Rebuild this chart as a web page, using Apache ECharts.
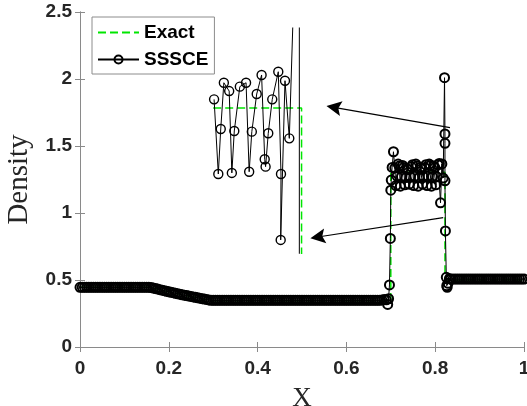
<!DOCTYPE html>
<html><head><meta charset="utf-8">
<script src="https://cdn.jsdelivr.net/npm/echarts@6/dist/echarts.min.js"></script>
<style>html,body{margin:0;padding:0;background:#fff}#c{width:527px;height:406px}</style>
</head><body><div id="c"></div>
<script>
// ---- tick labels ----
const xTicks = [0, 0.2, 0.4, 0.6, 0.8, 1];
const yTicks = [0, 0.5, 1, 1.5, 2, 2.5];

// ---- Exact solution ----
const exactX = [0, 0.158, 0.18, 0.2, 0.22, 0.24, 0.26, 0.28, 0.293, 0.700, 0.700, 0.822, 0.822, 1.0];
const exactY = [0.445, 0.445, 0.427, 0.412, 0.397, 0.384, 0.371, 0.357, 0.345, 0.345, 1.304, 1.304, 0.5, 0.5];

// ---- SSSCE numerical solution ----
const sssceX = [
  0,0.005,0.01,0.015,0.02,0.025,0.03,0.035,0.04,0.045,0.05,0.055,0.06,0.065,0.07,0.075,
  0.08,0.085,0.09,0.095,0.1,0.105,0.11,0.115,0.12,0.125,0.13,0.135,0.14,0.145,0.15,0.155,
  0.16,0.165,0.17,0.175,0.18,0.185,0.19,0.195,0.2,0.205,0.21,0.215,0.22,0.225,0.23,0.235,
  0.24,0.245,0.25,0.255,0.26,0.265,0.27,0.275,0.28,0.285,0.29,
  0.295,0.3,0.305,0.31,0.315,0.32,0.325,0.33,0.335,0.34,0.345,0.35,0.355,0.36,0.365,0.37,
  0.375,0.38,0.385,0.39,0.395,0.4,0.405,0.41,0.415,0.42,0.425,0.43,0.435,0.44,0.445,0.45,
  0.455,0.46,0.465,0.47,0.475,0.48,0.485,0.49,0.495,0.5,0.505,0.51,0.515,0.52,0.525,0.53,
  0.535,0.54,0.545,0.55,0.555,0.56,0.565,0.57,0.575,0.58,0.585,0.59,0.595,0.6,0.605,0.61,
  0.615,0.62,0.625,0.63,0.635,0.64,0.645,0.65,0.655,0.66,0.665,0.67,0.675,0.68,0.685,0.69,
  0.693,0.695,0.697,0.699,0.700,0.701,0.703,0.706,
  0.709,0.7115,0.714,0.7165,0.719,0.7215,0.724,0.7265,0.729,0.7315,0.734,0.7365,0.739,0.7415,
  0.744,0.7465,0.749,0.7515,0.754,0.7565,0.759,0.7615,0.764,0.7665,0.769,0.7715,0.774,0.7765,
  0.779,0.7815,0.784,0.7865,0.789,0.7915,0.794,0.7965,0.799,0.8015,0.804,0.8065,0.809,0.812,
  0.815,0.818,
  0.821,0.822,0.822,0.822,0.823,0.825,0.826,0.827,0.829,0.832,
  0.835,0.84,0.845,0.85,0.855,0.86,0.865,0.87,0.875,0.88,0.885,0.89,0.895,0.9,0.905,0.91,
  0.915,0.92,0.925,0.93,0.935,0.94,0.945,0.95,0.955,0.96,0.965,0.97,0.975,0.98,0.985,0.99,
  0.995,1.0
];
const sssceY = [
  0.445,0.445,0.445,0.445,0.445,0.445,0.445,0.445,0.445,0.445,0.445,0.445,0.445,0.445,0.445,0.445,
  0.445,0.445,0.445,0.445,0.445,0.445,0.445,0.445,0.445,0.445,0.445,0.445,0.445,0.445,0.445,0.445,
  0.444,0.440,0.436,0.432,0.428,0.424,0.420,0.416,0.412,0.408,0.405,0.401,0.397,0.394,0.390,0.387,
  0.384,0.380,0.377,0.374,0.371,0.367,0.364,0.361,0.358,0.355,0.351,
  0.348,0.348,0.348,0.348,0.348,0.348,0.348,0.348,0.348,0.348,0.348,0.348,0.348,0.348,0.348,0.348,
  0.348,0.348,0.348,0.348,0.348,0.348,0.348,0.348,0.348,0.348,0.348,0.348,0.348,0.348,0.348,0.348,
  0.348,0.348,0.348,0.348,0.348,0.348,0.348,0.348,0.348,0.348,0.348,0.348,0.348,0.348,0.348,0.348,
  0.348,0.348,0.348,0.348,0.348,0.348,0.348,0.348,0.348,0.348,0.348,0.348,0.348,0.348,0.348,0.348,
  0.348,0.348,0.348,0.348,0.348,0.348,0.348,0.348,0.348,0.348,0.348,0.348,0.348,0.350,0.354,0.352,
  0.318,0.360,0.463,0.810,1.170,1.246,1.340,1.457,
  1.335,1.205,1.275,1.365, 1.350,1.200,1.270,1.355, 1.340,1.210,1.265,1.330,
  1.325,1.215,1.270,1.345, 1.360,1.205,1.275,1.365, 1.350,1.200,1.265,1.340,
  1.330,1.215,1.270,1.340, 1.360,1.205,1.275,1.365, 1.355,1.200,1.270,1.350,
  1.340,1.210,1.270,1.360, 1.370,1.076,1.366,1.261,
  2.010,1.590,1.520,1.240,0.866,0.520,0.457,0.445,0.475,0.510,
  0.507,0.507,0.507,0.507,0.507,0.507,0.507,0.507,0.507,0.507,0.507,0.507,0.507,0.507,0.507,0.507,
  0.507,0.507,0.507,0.507,0.507,0.507,0.507,0.507,0.507,0.507,0.507,0.507,0.507,0.507,0.507,0.507,
  0.507,0.507
];

// ---- Inset (magnified view), values in main-axis units ----
const insetX = [0.302,0.3115,0.317,0.324,0.336,0.342,0.3475,0.360,0.374,0.381,0.387,0.398,0.409,0.416,0.418,0.424,0.433,0.4466,0.4527,0.452,0.4617,0.4714,0.494,0.494];
const insetY = [1.848,1.291,1.627,1.972,1.910,1.299,1.612,1.943,1.972,1.308,1.607,1.888,2.030,1.401,1.346,1.595,1.848,2.054,1.291,0.799,1.987,1.557,3.97,0.3];
const insetExactX = [0.3, 0.499, 0.499];
const insetExactY = [1.784, 1.784, 0.5];

// ---- Arrows (start, head centre) ----
const arrowFrom = [[0.8333, 1.637], [0.818, 0.965]];
const arrowTo   = [[0.5718, 1.788], [0.5356, 0.821]];

const zip = (a, b) => a.map((v, i) => [v, b[i]]);

const mainGrid = {left: 80, top: 12, width: 444, height: 335};
const xRange = [0, 1], yRange = [0, 2.5];
const insetXRange = [0.3, 0.5], insetYRange = [0.7, 2.38];
const insetGrid = {
  left: mainGrid.left + (insetXRange[0] - xRange[0]) / (xRange[1] - xRange[0]) * mainGrid.width,
  width: (insetXRange[1] - insetXRange[0]) / (xRange[1] - xRange[0]) * mainGrid.width,
  top: mainGrid.top + (yRange[1] - insetYRange[1]) / (yRange[1] - yRange[0]) * mainGrid.height,
  height: (insetYRange[1] - insetYRange[0]) / (yRange[1] - yRange[0]) * mainGrid.height
};

const axisColor = '#8a8a8a';
const labelFont = {fontFamily: 'Liberation Sans, Arial, sans-serif', fontWeight: 'bold', fontSize: 19, color: '#262626'};
const green = '#00e600';

function valAxis(range, step, extra) {
  return Object.assign({
    type: 'value', min: range[0], max: range[1], interval: step,
    axisLine: {show: true, lineStyle: {color: axisColor, width: 1}},
    axisTick: {show: true, inside: true, length: 5, lineStyle: {color: axisColor}},
    splitLine: {show: false}
  }, extra);
}

const chart = echarts.init(document.getElementById('c'), null, {renderer: 'canvas'});
chart.setOption({
  animation: false,
  backgroundColor: '#fff',
  grid: [
    Object.assign({containLabel: false, outerBoundsMode: 'none'}, mainGrid),
    Object.assign({containLabel: false, outerBoundsMode: 'none'}, insetGrid)
  ],
  legend: {
    data: ['Exact', 'SSSCE'],
    orient: 'vertical', left: 92, top: 17,
    itemWidth: 41, itemHeight: 10, itemGap: 8,
    padding: [6, 6, 5, 5],
    backgroundColor: '#fff', borderColor: '#8c8c8c', borderWidth: 1, borderRadius: 0,
    textStyle: {fontFamily: 'Liberation Sans, Arial, sans-serif', fontWeight: 'bold', fontSize: 19, color: '#000'}
  },
  xAxis: [
    valAxis(xRange, 0.2, {gridIndex: 0, position: 'bottom',
      axisLabel: Object.assign({margin: 12, formatter: v => xTicks.includes(+v.toFixed(6)) ? String(+v.toFixed(6)) : ''}, labelFont),
      name: 'X', nameLocation: 'middle', nameGap: 38,
      nameTextStyle: {fontFamily: 'Liberation Serif, Times New Roman, serif', fontSize: 27, color: '#262626'}}),
    valAxis(xRange, 0.2, {gridIndex: 0, position: 'top', axisLabel: {show: false}}),
    {type: 'value', gridIndex: 1, min: insetXRange[0], max: insetXRange[1], show: false}
  ],
  yAxis: [
    valAxis(yRange, 0.5, {gridIndex: 0, position: 'left',
      axisLabel: Object.assign({margin: 8, formatter: v => yTicks.includes(+v.toFixed(6)) ? String(+v.toFixed(6)) : ''}, labelFont),
      name: 'Density', nameLocation: 'middle', nameGap: 46,
      nameTextStyle: {fontFamily: 'Liberation Serif, Times New Roman, serif', fontSize: 29, color: '#262626'}}),
    valAxis(yRange, 0.5, {gridIndex: 0, position: 'right', axisLabel: {show: false}}),
    {type: 'value', gridIndex: 1, min: insetYRange[0], max: insetYRange[1], show: false}
  ],
  series: [
    {
      name: 'Exact', type: 'line', xAxisIndex: 0, yAxisIndex: 0,
      data: zip(exactX, exactY), symbol: 'circle', symbolSize: 0, showSymbol: false,
      itemStyle: {color: 'rgba(0,0,0,0)', borderWidth: 0},
      lineStyle: {color: green, width: 1.5, type: [8, 4]}, z: 2,
      markLine: {
        silent: true, animation: false,
        symbol: ['none', 'path://M7.5,0 L15,15 L7.5,12 L0,15 Z'], symbolSize: 15,
        label: {show: false},
        lineStyle: {color: '#000', width: 1.2, type: 'solid'},
        data: arrowFrom.map((p, i) => [{coord: p}, {coord: arrowTo[i]}])
      }
    },
    {
      name: 'SSSCE', type: 'line', xAxisIndex: 0, yAxisIndex: 0,
      data: zip(sssceX, sssceY), symbol: 'circle', symbolSize: 9,
      showSymbol: true, showAllSymbol: true,
      itemStyle: {color: 'rgba(0,0,0,0)', borderColor: '#000', borderWidth: 2},
      lineStyle: {color: '#000', width: 1}, z: 3
    },
    {
      name: 'insetExact', type: 'line', xAxisIndex: 2, yAxisIndex: 2,
      data: zip(insetExactX, insetExactY), symbol: 'none', showSymbol: false,
      lineStyle: {color: green, width: 1.5, type: [8, 4]}, z: 2, clip: true
    },
    {
      name: 'insetSSSCE', type: 'line', xAxisIndex: 2, yAxisIndex: 2,
      data: zip(insetX, insetY), symbol: 'circle', symbolSize: 9,
      showSymbol: true, showAllSymbol: true, clip: true,
      itemStyle: {color: 'rgba(0,0,0,0)', borderColor: '#000', borderWidth: 1.4},
      lineStyle: {color: '#000', width: 1}, z: 3
    }
  ]
});
</script></body></html>
